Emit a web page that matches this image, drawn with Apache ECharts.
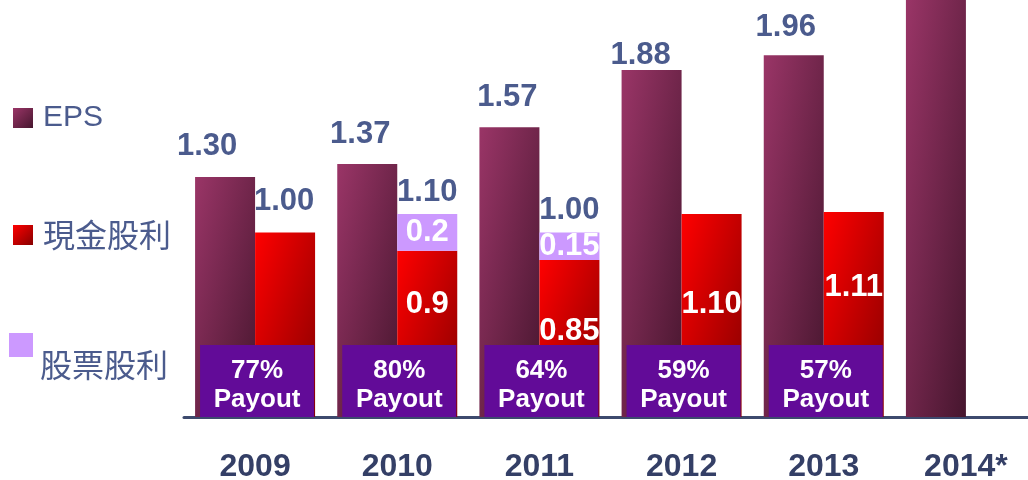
<!DOCTYPE html>
<html>
<head>
<meta charset="utf-8">
<script src="https://cdn.jsdelivr.net/npm/echarts@6/dist/echarts.min.js"></script>
<style>
  html, body { margin: 0; padding: 0; background: #ffffff; }
  #chart { width: 1028px; height: 480px; }
</style>
</head>
<body>
<div id="chart"></div>
<script>
// Earnings per share and dividends by year
const years = ['2009', '2010', '2011', '2012', '2013', '2014*'];
const eps = [1.30, 1.37, 1.57, 1.88, 1.96, 2.45];
const cashDividend = [1.00, 0.9, 0.85, 1.10, 1.11, null];
const stockDividend = [null, 0.2, 0.15, null, null, null];
const payoutPct = [77, 80, 64, 59, 57];
const cashDigits = [2, 1, 2, 2, 2];
const stockDigits = [1, 1, 2, 1, 1];

// label nudges [dx, dy] so the numbers sit where they are printed
const epsNudge = [[-18, 0], [-7, 1], [-2, 1], [-11, 16], [-8, 3]];
const cashInsideDy = [0, -29, -7, -11, -27];

const SLATE = '#4B5B8D';
const AXIS_TEXT = '#343F66';
const FONT = 'Liberation Sans, Arial, sans-serif';
const CJK = 'Noto Sans CJK TC, sans-serif';

const Y_MAX = 2.259;
const PLOT_H = 417;      // grid height in px (480 - bottom 63)
const BAR_W = 60;

// corner-to-corner shading: top-left light, bottom-right dark,
// with the two other corners at the midpoint colour
function diagFill(hPx, c0, c1) {
  const w = BAR_W, h = Math.max(hPx, 1);
  const r = (w * w) / (h * h);
  const p = (2 * w) / (1 + r);
  const q = p * w / h;
  return new echarts.graphic.LinearGradient(0, 0, p / w, q / h, [
    { offset: 0, color: c0 },
    { offset: 1, color: c1 }
  ]);
}
const EPS_C = ['#9A3567', '#46162E'];
const CASH_C = ['#FF0000', '#860000'];
const STOCK_C = '#CC99FF';
const pxOf = (v) => Math.min(v, Y_MAX) * PLOT_H / Y_MAX;

const squareFill = (c) => new echarts.graphic.LinearGradient(0, 0, 1, 1, [
  { offset: 0, color: c[0] }, { offset: 1, color: c[1] }
]);

const stackTotals = stockDividend.map((s) => (s == null ? null : 0));

const chart = echarts.init(document.getElementById('chart'), null, { renderer: 'canvas' });

const valueLabel = { fontSize: 31, fontWeight: 'bold', fontFamily: FONT };

chart.setOption({
  animation: false,
  backgroundColor: '#ffffff',
  grid: {
    left: 184, width: 853, top: 0, bottom: 63,
    containLabel: false, outerBoundsMode: 'none'
  },
  legend: [
    {
      data: ['EPS'], orient: 'vertical', left: 13, top: 103, padding: 0,
      icon: 'rect', itemWidth: 20, itemHeight: 20, selectedMode: false,
      textStyle: { fontSize: 30, color: SLATE, fontFamily: FONT, padding: [0, 0, 0, 5] }
    },
    {
      data: ['現金股利'], orient: 'vertical', left: 13, top: 219, padding: 0,
      icon: 'rect', itemWidth: 20, itemHeight: 20, selectedMode: false,
      textStyle: { fontSize: 32, color: SLATE, fontFamily: CJK, padding: [6, 0, 0, 5] }
    },
    {
      data: ['股票股利'], orient: 'vertical', left: 9, top: 333, padding: 0,
      icon: 'rect', itemWidth: 24, itemHeight: 24, selectedMode: false,
      formatter: '{t|{name}}',
      textStyle: {
        color: SLATE,
        rich: { t: { fontSize: 32, color: SLATE, fontFamily: CJK, padding: [40, 0, 0, 2] } }
      }
    }
  ],
  xAxis: {
    type: 'category',
    data: years,
    axisLine: { lineStyle: { color: '#3D4A6E', width: 3 } },
    axisTick: { show: false },
    axisLabel: { fontSize: 32, fontWeight: 'bold', color: AXIS_TEXT, fontFamily: FONT, margin: 34 }
  },
  yAxis: {
    type: 'value', min: 0, max: Y_MAX, show: false,
    splitLine: { show: false }
  },
  series: [
    {
      name: 'EPS',
      type: 'bar',
      barWidth: BAR_W,
      barGap: '0%',
      itemStyle: { color: squareFill(EPS_C) },
      data: eps.map((v, i) => ({
        value: v,
        itemStyle: { color: diagFill(pxOf(v), EPS_C[0], EPS_C[1]) },
        label: i < epsNudge.length ? {
          show: true, position: 'top', distance: 15,
          offset: epsNudge[i], color: SLATE, ...valueLabel,
          formatter: (p) => p.value.toFixed(2)
        } : { show: false }
      }))
    },
    {
      name: '現金股利',
      type: 'bar',
      stack: 'dividend',
      barWidth: BAR_W,
      barGap: '0%',
      itemStyle: { color: squareFill(CASH_C) },
      data: cashDividend.map((v, i) => {
        if (v == null) return null;
        const onTop = i === 0;
        return {
          value: v,
          itemStyle: { color: diagFill(pxOf(v), CASH_C[0], CASH_C[1]) },
          label: {
            show: true,
            position: onTop ? 'top' : 'inside',
            distance: 15,
            offset: onTop ? [-1, 0] : [0, cashInsideDy[i]],
            color: onTop ? SLATE : '#ffffff',
            ...valueLabel,
            formatter: (p) => p.value.toFixed(cashDigits[i])
          }
        };
      })
    },
    {
      name: '股票股利',
      type: 'bar',
      stack: 'dividend',
      barWidth: BAR_W,
      barGap: '0%',
      itemStyle: { color: STOCK_C },
      label: {
        show: true, position: 'inside', color: '#ffffff', ...valueLabel,
        formatter: (p) => p.value.toFixed(stockDigits[p.dataIndex])
      },
      data: stockDividend
    },
    {
      // zero-height cap carrying the cash + stock total above the stack
      name: 'dividendTotal',
      type: 'bar',
      stack: 'dividend',
      barWidth: BAR_W,
      barGap: '0%',
      itemStyle: { color: 'rgba(0,0,0,0)' },
      label: {
        show: true, position: 'top', distance: 6, color: SLATE, ...valueLabel,
        formatter: (p) => (cashDividend[p.dataIndex] + stockDividend[p.dataIndex]).toFixed(2)
      },
      data: stackTotals
    },
    {
      name: 'payout',
      type: 'custom',
      clip: false,
      z: 10,
      data: payoutPct.map((v, i) => [i, v]),
      renderItem: (params, api) => {
        const base = api.coord([api.value(0), 0]);
        const w = 114, h = 72, cx = base[0] + 2;
        return {
          type: 'group',
          children: [
            {
              type: 'rect',
              shape: { x: cx - w / 2, y: base[1] - h, width: w, height: h },
              style: { fill: '#620B98' }
            },
            {
              type: 'text',
              style: {
                text: api.value(1) + '%\nPayout',
                x: cx, y: base[1] - h / 2 + 4,
                align: 'center', verticalAlign: 'middle',
                fill: '#ffffff', fontSize: 26, fontWeight: 'bold',
                fontFamily: FONT, lineHeight: 29
              }
            }
          ]
        };
      }
    }
  ]
});
</script>
</body>
</html>
